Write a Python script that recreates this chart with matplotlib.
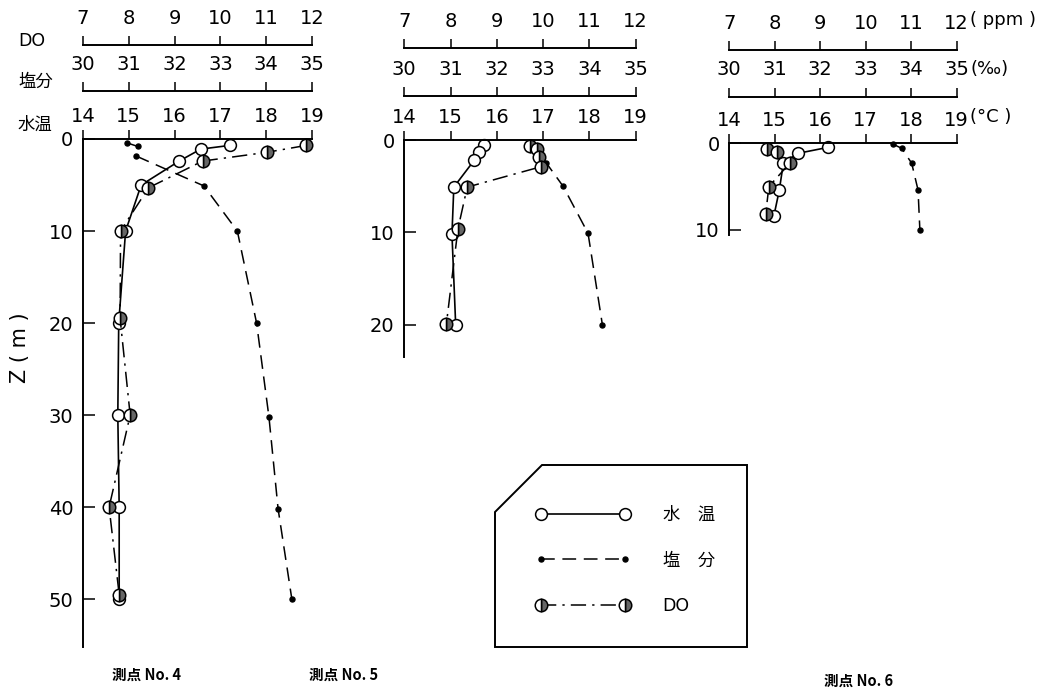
import matplotlib
matplotlib.use("Agg")
import matplotlib.pyplot as plt
from matplotlib.patches import Polygon

plt.rcParams['font.family'] = ['DejaVu Sans', 'Noto Sans CJK JP']

# ---------------- data ----------------
# Station No.4
temp4_depth = [0.7, 1.1, 2.4, 5.0, 10, 20, 30, 40, 50]
temp4 = [17.2, 16.57, 16.1, 15.27, 14.93, 14.78, 14.76, 14.79, 14.79]
sal4_depth = [0.4, 0.8, 1.85, 5.1, 10, 20, 30.2, 40.2, 50]
sal4 = [30.95, 31.19, 31.16, 32.64, 33.37, 33.79, 34.06, 34.26, 34.56]
do4_depth = [0.7, 1.45, 2.4, 5.3, 10, 19.5, 30, 40, 49.5]
do4 = [11.87, 11.01, 9.61, 8.43, 7.82, 7.81, 8.03, 7.57, 7.79]

# Station No.5
temp5_depth = [0.5, 1.3, 2.2, 5.1, 10.2, 20]
temp5 = [15.72, 15.61, 15.51, 15.07, 15.03, 15.11]
sal5_depth = [0.3, 2.5, 5.0, 10.1, 20]
sal5 = [32.75, 33.07, 33.43, 33.97, 34.28]
do5_depth = [0.7, 1.0, 1.8, 2.9, 5.1, 9.6, 19.9]
do5 = [9.72, 9.86, 9.9, 9.95, 8.36, 8.16, 7.91]

# Station No.6
temp6_depth = [0.46, 1.15, 2.24, 5.4, 8.4]
temp6 = [16.18, 15.52, 15.19, 15.1, 14.98]
sal6_depth = [0.1, 0.58, 2.3, 5.4, 10]
sal6 = [33.6, 33.79, 34.01, 34.15, 34.19]
do6_depth = [0.66, 0.97, 2.3, 5.0, 8.2]
do6 = [7.82, 8.04, 8.33, 7.87, 7.8]

temp_ticks = [14, 15, 16, 17, 18, 19]
sal_ticks = [30, 31, 32, 33, 34, 35]
do_ticks = [7, 8, 9, 10, 11, 12]
station_names = ['測点 No. 4', '測点 No. 5', '測点 No. 6']
legend_labels = ['水\u3000温', '塩\u3000分', 'DO']
scale_names = ['DO', '塩分', '水温']
units = ['( ppm )', '(‰)', '(°C )']

# ---------------- layout ----------------
W, H = 1050, 694
fig = plt.figure(figsize=(W / 100, H / 100), dpi=100)


def fx(x):
    return x / W


def fy(y):
    return 1 - y / H


PT = 0.72  # points per pixel at 100 dpi

panels = [
    dict(box=(83, 312, 139, 647), ymax=55.2, yt=[0, 10, 20, 30, 40, 50],
         off_sal=48, off_do=94,
         data=(temp4_depth, temp4, sal4_depth, sal4, do4_depth, do4), label_x=147, label_y=675),
    dict(box=(404.3, 635.7, 140, 357), ymax=23.5, yt=[0, 10, 20],
         off_sal=44, off_do=92,
         data=(temp5_depth, temp5, sal5_depth, sal5, do5_depth, do5), label_x=344, label_y=675),
    dict(box=(729.3, 956.7, 143.3, 235), ymax=10.6, yt=[0, 10],
         off_sal=46.6, off_do=93.3,
         data=(temp6_depth, temp6, sal6_depth, sal6, do6_depth, do6), label_x=859, label_y=681),
]

temp_style = dict(color='black', lw=1.2, ls='-', marker='o', ms=8.5,
                  mfc='white', mec='black', mew=1.1, clip_on=False)
sal_style = dict(color='black', lw=1.1, ls=(0, (9, 5)), marker='o', ms=3.6,
                 mfc='black', mec='black', clip_on=False)
do_style = dict(color='black', lw=1.1, ls=(0, (10, 4, 1.5, 4)), marker='o', ms=9,
                fillstyle='right', mfc='#666666', markerfacecoloralt='white',
                mec='black', mew=1.1, clip_on=False)

tick_kw = dict(direction='out', length=6.5, width=1.1, labelsize=14)

handles = None
for i, p in enumerate(panels):
    l, r, t, b = p['box']
    ax = fig.add_axes([fx(l), fy(b), fx(r) - fx(l), fy(t) - fy(b)])
    ax.patch.set_visible(False)
    ax.set_xlim(14, 19)
    ax.set_ylim(p['ymax'], 0)

    axs = ax.twiny()
    axs.set_xlim(30, 35)
    axs.set_xticks(sal_ticks)
    axs.spines['top'].set_position(('outward', p['off_sal'] * PT))
    axd = ax.twiny()
    axd.set_xlim(7, 12)
    axd.set_xticks(do_ticks)
    axd.spines['top'].set_position(('outward', p['off_do'] * PT))
    for a in (axs, axd):
        a.patch.set_visible(False)
        for s in ('left', 'right', 'bottom'):
            a.spines[s].set_visible(False)
        a.spines['top'].set_linewidth(1.4)
        a.tick_params(axis='x', top=True, bottom=False, labeltop=True, labelbottom=False,
                      pad=6, **tick_kw)

    # main (water temperature) axis: configure after twiny calls
    ax.xaxis.set_ticks_position('top')
    ax.xaxis.set_label_position('top')
    ax.set_xticks(temp_ticks)
    ax.tick_params(axis='x', top=True, bottom=False, labeltop=True, labelbottom=False,
                   pad=3, **tick_kw)
    ax.set_yticks(p['yt'])
    ax.tick_params(axis='y', direction='in', length=8.5, width=1.1, pad=7, labelsize=14)
    ax.spines['right'].set_visible(False)
    ax.spines['bottom'].set_visible(False)
    for s in ('left', 'top'):
        ax.spines[s].set_linewidth(1.4)

    td, tv, sd, sv, dd, dv = p['data']
    lt, = ax.plot(tv, td, **temp_style)
    ls_, = axs.plot(sv, sd, **sal_style)
    ld, = axd.plot(dv, dd, **do_style)
    if handles is None:
        handles = [lt, ls_, ld]

    fig.text(fx(p['label_x']), fy(p['label_y']), station_names[i],
             ha='center', va='center', fontsize=10.5, fontweight='bold',
             family=['Noto Sans CJK JP', 'DejaVu Sans'])

# scale names on the left
for name, yy in zip(scale_names, [41, 82, 125]):
    fig.text(fx(18), fy(yy), name, ha='left', va='center', fontsize=12.5)

# units on the right of station 6
for u, yy in zip(units, [20, 69, 117]):
    fig.text(fx(970), fy(yy), u, ha='left', va='center', fontsize=13)

fig.text(fx(20), fy(348), 'Z ( m )', rotation=90, ha='center', va='center', fontsize=15)

# legend frame with bevelled corner
frame = Polygon([(fx(495), fy(512)), (fx(542), fy(465)), (fx(747), fy(465)),
                 (fx(747), fy(647)), (fx(495), fy(647))], closed=True,
                fill=False, ec='black', lw=1.4, transform=fig.transFigure)
fig.patches.append(frame)

fig.legend(handles=handles, labels=legend_labels, loc='upper left',
           bbox_to_anchor=(fx(536), fy(506)), frameon=False, numpoints=2,
           handlelength=5.4, handletextpad=1.9, labelspacing=1.58, fontsize=12.5,
           borderpad=0, borderaxespad=0)

fig.savefig('out.png', dpi=100)
